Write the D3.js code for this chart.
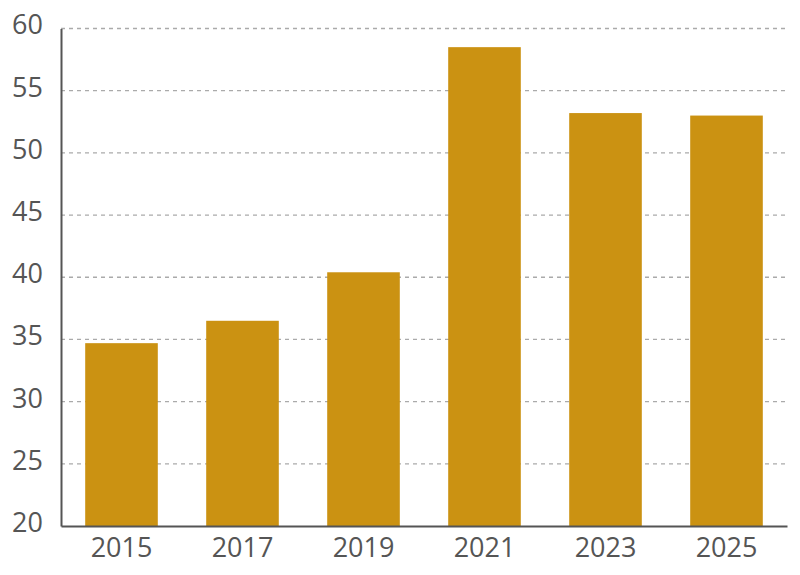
<!DOCTYPE html>
<html><head><meta charset="utf-8">
<script src="https://cdn.jsdelivr.net/npm/d3@7"></script>
<style>body{margin:0;background:#fff;} svg{display:block;}</style>
</head><body>
<svg id="chart" width="800" height="575"></svg>
<script>
const years = ["2015","2017","2019","2021","2023","2025"];
const values = [34.7, 36.5, 40.4, 58.5, 53.2, 53.0];
const yTicks = [20,25,30,35,40,45,50,55,60];

const svg = d3.select("#chart");
const m = {left:61, right:13, top:28.5, bottom:49};
const W = 800, H = 575;
const x = d3.scaleBand().domain(years).range([m.left, W-m.right]).paddingInner(0.4).paddingOuter(0.2);
const y = d3.scaleLinear().domain([20,60]).range([H-m.bottom, m.top]);
const font = "'Open Sans', sans-serif";

// grid
svg.append("g").selectAll("line").data(yTicks.filter(d=>d>20)).join("line")
  .attr("x1", m.left).attr("x2", W-m.right)
  .attr("y1", d=>y(d)).attr("y2", d=>y(d))
  .attr("stroke", "#aaa").attr("stroke-width", 1.3).attr("stroke-dasharray", "4,4");

// bars
svg.append("g").selectAll("rect").data(years).join("rect")
  .attr("x", d=>x(d)).attr("width", x.bandwidth())
  .attr("y", (d,i)=>y(values[i])).attr("height", (d,i)=>y(20)-y(values[i]))
  .attr("fill", "#CB9212");

// axes
const yAxis = svg.append("g").attr("transform", `translate(${m.left},0)`)
  .call(d3.axisLeft(y).tickValues(yTicks).tickSize(0).tickPadding(18));
yAxis.select(".domain").attr("stroke", "#555").attr("stroke-width", 2);
yAxis.selectAll("text").attr("font-family", font).attr("font-size", 27).attr("fill", "#555").attr("dy", "0.2em");

const xAxis = svg.append("g").attr("transform", `translate(0,${y(20)})`)
  .call(d3.axisBottom(x).tickSize(0).tickPadding(12));
xAxis.select(".domain").attr("stroke", "#555").attr("stroke-width", 2);
xAxis.selectAll("text").attr("font-family", font).attr("font-size", 27).attr("fill", "#555");
</script>
</body></html>
